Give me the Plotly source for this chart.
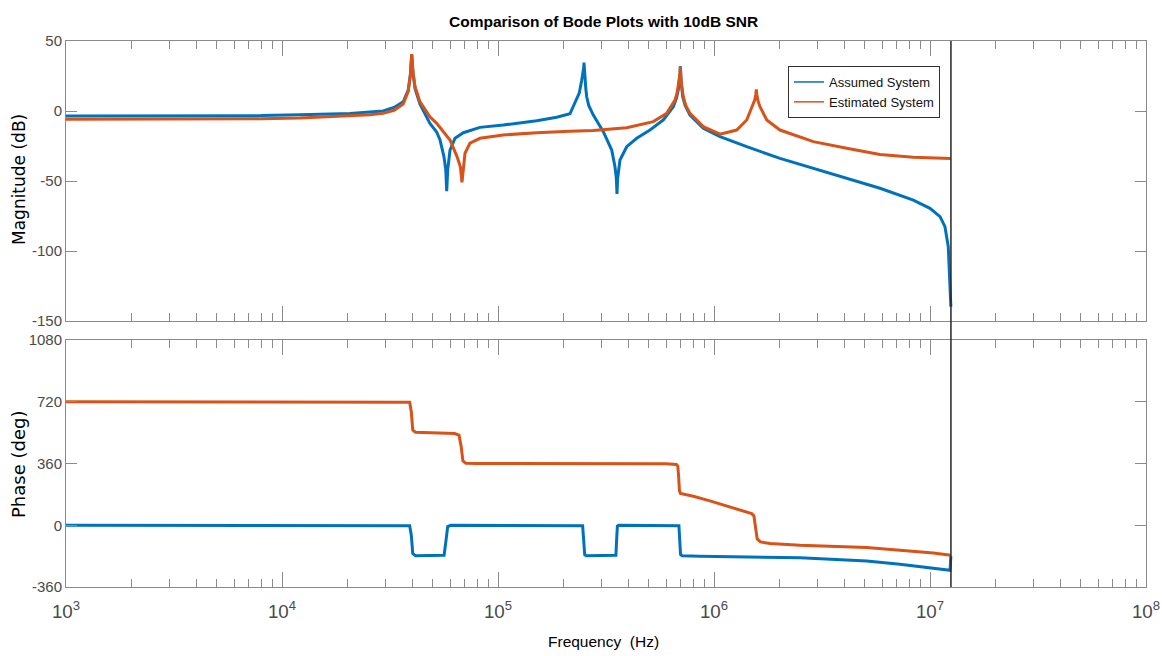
import plotly.graph_objects as go

# ---------------- data ----------------
assumed_mag_freq = [1000, 5000, 8000, 12100, 20600, 25500, 29400, 33000, 36400, 38400, 39300, 39860,
                    40400, 41300, 43500, 48400, 52000, 53900, 56200, 57300, 57880, 58500, 59950,
                    63200, 69100, 82500, 105800, 151100, 187000, 215400, 231400, 238000, 244100,
                    247500, 249400, 250100, 250800, 252500, 255000, 257400, 263000, 276200, 307300,
                    336100, 348000, 353000, 355500, 358000, 367100, 394300, 438700, 505300, 582600,
                    648000, 670000, 683400, 692000, 696500, 698300, 700500, 705000, 716400, 735000,
                    774300, 892300, 1066000, 1417000, 2021000, 2883000, 4116000, 5869000,
                    8371000, 10000000, 11130000, 11730000, 12150000, 12380000, 12490000]
assumed_mag_db = [-3.6, -3.5, -3.3, -2.6, -1.7, -0.8, 0.0, 2.5, 6.5, 15.0, 26.0, 40.5,
                  27.0, 16.0, 5.0, -8.8, -15.0, -20.7, -32.6, -42.0, -57.3, -42.0, -27.9,
                  -19.5, -15.5, -11.7, -10.0, -6.9, -4.5, -2.0, 7.9, 13.0, 22.0,
                  27.0, 31.0, 34.5, 31.0, 24.0, 16.0, 10.2, 4.0, -2.9, -14.8,
                  -27.9, -39.8, -48.0, -59.3, -48.0, -35.0, -25.5, -19.5, -13.6, -6.4,
                  3.1, 9.0, 15.0, 22.0, 27.0, 32.0, 27.0, 20.0, 10.2, 4.0,
                  -2.9, -12.4, -18.3, -25.5, -33.8, -40.9, -48.1, -55.2,
                  -63.6, -69.5, -75.5, -82.6, -96.9, -120.0, -139.8]

estimated_mag_freq = [1000, 5000, 8000, 12100, 20600, 25500, 29400, 33000, 36400, 38400, 39300, 39860,
                      40400, 41300, 43500, 48400, 52000, 59950, 64600, 67000, 68100, 69200, 70350,
                      74200, 82500, 105800, 151100, 215400, 276200, 394300, 523600, 604000, 659800,
                      675000, 683400, 692000, 696500, 698300, 700500, 705000, 721000, 740000, 774300,
                      892300, 1066000, 1274000, 1417000, 1520000, 1545000, 1562000, 1570000,
                      1578000, 1600000, 1633000, 1754000, 2021000, 2883000, 4116000, 5869000,
                      8371000, 12490000]
estimated_mag_db = [-5.9, -5.8, -5.6, -5.0, -3.6, -2.6, -1.7, 0.5, 5.0, 14.0, 26.0, 40.7,
                    28.0, 17.4, 6.7, -4.1, -8.8, -20.7, -32.6, -40.0, -51.0, -40.0, -30.2,
                    -23.0, -19.5, -17.1, -15.5, -14.5, -14.0, -11.9, -7.6, -1.7, 7.9,
                    13.0, 17.4, 23.0, 27.0, 31.6, 27.0, 21.0, 10.2, 4.0, -1.7,
                    -11.2, -16.6, -13.6, -6.4, 4.3, 8.0, 12.0, 15.5,
                    12.0, 7.0, 3.1, -6.4, -13.6, -21.9, -26.6, -31.0,
                    -33.1, -34.0]

assumed_phase_freq = [1000, 37000, 39000, 39700, 40300, 41500, 54000, 56300, 57300, 58500, 60500,
                      240000, 246500, 249000, 252000, 256000, 345000, 351500, 354000, 357000, 362000,
                      680000, 688000, 692000, 700000, 712000, 861000, 2500000, 5090000, 7260000,
                      10360000, 12380000, 12490000]
assumed_phase_deg = [0, 0, -3, -60, -165, -178, -178, -175, -100, -8, 0,
                     0, -3, -80, -172, -178, -178, -175, -90, -5, 0,
                     0, -3, -60, -170, -178, -181, -189, -208, -227,
                     -249, -263, -180]

estimated_phase_freq = [1000, 37000, 39000, 39700, 40300, 41500, 55000, 63000, 66000, 67500, 68800,
                        71000, 80000, 300000, 600000, 670000, 680000, 686000, 692000, 700000,
                        802000, 957000, 1145000, 1318000, 1494000, 1530000, 1556000, 1585000,
                        1640000, 1816000, 2500000, 3565000, 5090000, 7260000, 10360000, 12490000]
estimated_phase_deg = [720, 720, 717, 660, 555, 542, 540, 535, 525, 460, 375,
                       362, 360, 360, 358, 354, 345, 280, 200, 185,
                       169, 142, 111, 88, 68, 55, 0, -80,
                       -97, -107, -117, -122, -130, -146, -162, -175]

nyquist_freq = 12500000

series_names = ["Assumed System", "Estimated System"]
mag_ticks = [-150, -100, -50, 0, 50]
mag_tick_text = ["-150", "-100", "-50", "0", "50"]
phase_ticks = [-360, 0, 360, 720, 1080]
phase_tick_text = ["-360", "0", "360", "720", "1080"]

# ---------------- styling ----------------
BLUE = "#0072BD"
ORANGE = "#D95319"
SANS = "Liberation Sans, Arial, Helvetica, sans-serif"
AX_LINE = "#8a8a8a"
TXT = "#4a4a4a"

fig = go.Figure()

fig.add_trace(go.Scatter(x=assumed_mag_freq, y=assumed_mag_db, mode="lines",
                         line=dict(color=BLUE, width=3), showlegend=False,
                         xaxis="x", yaxis="y"))
fig.add_trace(go.Scatter(x=estimated_mag_freq, y=estimated_mag_db, mode="lines",
                         line=dict(color=ORANGE, width=3), showlegend=False,
                         xaxis="x", yaxis="y"))
fig.add_trace(go.Scatter(x=assumed_phase_freq, y=assumed_phase_deg, mode="lines",
                         line=dict(color=BLUE, width=3), showlegend=False,
                         xaxis="x2", yaxis="y2"))
fig.add_trace(go.Scatter(x=estimated_phase_freq, y=estimated_phase_deg, mode="lines",
                         line=dict(color=ORANGE, width=3), showlegend=False,
                         xaxis="x2", yaxis="y2"))
# legend-only entries with thin lines
fig.add_trace(go.Scatter(x=[None], y=[None], mode="lines", name=series_names[0],
                         line=dict(color=BLUE, width=1.5), xaxis="x", yaxis="y"))
fig.add_trace(go.Scatter(x=[None], y=[None], mode="lines", name=series_names[1],
                         line=dict(color=ORANGE, width=1.5), xaxis="x", yaxis="y"))

W, H = 1162, 656
ml, mr, mt, mb = 66, 16, 41, 69
ph = H - mt - mb
pw = W - ml - mr

def py(pix):
    return (H - mb - pix) / ph

def px(pix):
    return (pix - ml) / pw

xcommon = dict(type="log", range=[3, 8], showline=True, linecolor=AX_LINE, linewidth=1,
               mirror="ticks", ticks="inside", ticklen=15, tickcolor=AX_LINE, tickwidth=1,
               dtick=1, exponentformat="power", showgrid=False, zeroline=False,
               automargin=False,
               minor=dict(ticks="inside", ticklen=8, tickcolor=AX_LINE, dtick="D1", showgrid=False),
               tickfont=dict(family=SANS, size=15, color=TXT))
ycommon = dict(showline=True, linecolor=AX_LINE, linewidth=1, mirror="ticks",
               ticks="inside", ticklen=11, tickcolor=AX_LINE, tickwidth=1,
               showgrid=False, zeroline=False, automargin=False,
               tickfont=dict(family=SANS, size=15, color=TXT))

fig.update_layout(
    width=W, height=H,
    margin=dict(l=ml, r=mr, t=mt, b=mb, autoexpand=False),
    paper_bgcolor="white", plot_bgcolor="white",
    xaxis=dict(xcommon, domain=[0, 1], anchor="y", showticklabels=False),
    yaxis=dict(ycommon, domain=[py(321), 1], range=[-150, 50],
               tickvals=mag_ticks, ticktext=mag_tick_text),
    xaxis2=dict(xcommon, domain=[0, 1], anchor="y2", matches="x", ticklabelstandoff=8),
    yaxis2=dict(ycommon, domain=[0, py(340)], range=[-360, 1080],
                tickvals=phase_ticks, ticktext=phase_tick_text),
    legend=dict(x=px(940), y=py(66), xanchor="right", yanchor="top",
                bgcolor="white", bordercolor="#303030", borderwidth=1,
                font=dict(family=SANS, size=13, color="#111111"),
                itemwidth=30, tracegroupgap=0),
    shapes=[dict(type="line", xref="x", yref="paper", x0=nyquist_freq, x1=nyquist_freq,
                 y0=0, y1=1, line=dict(color="#262626", width=1.5), layer="above")],
    annotations=[
        dict(text="<b>Comparison of Bode Plots with 10dB SNR</b>", xref="paper", yref="paper",
             x=px(603), y=py(22), xanchor="center", yanchor="middle", showarrow=False,
             font=dict(family=SANS, size=15.5, color="#000000")),
        dict(text="Magnitude (dB)", xref="paper", yref="paper", x=px(19), y=py(180),
             xanchor="center", yanchor="middle", textangle=-90, showarrow=False,
             font=dict(family="DejaVu Sans, sans-serif", size=17, color="#000000")),
        dict(text="Phase (deg)", xref="paper", yref="paper", x=px(18), y=py(465),
             xanchor="center", yanchor="middle", textangle=-90, showarrow=False,
             font=dict(family="DejaVu Sans, sans-serif", size=18, color="#000000")),
        dict(text="Frequency  (Hz)", xref="paper", yref="paper", x=px(603), y=py(641),
             xanchor="center", yanchor="middle", showarrow=False,
             font=dict(family=SANS, size=15.5, color="#000000")),
    ],
)

fig.write_html("out.html")
